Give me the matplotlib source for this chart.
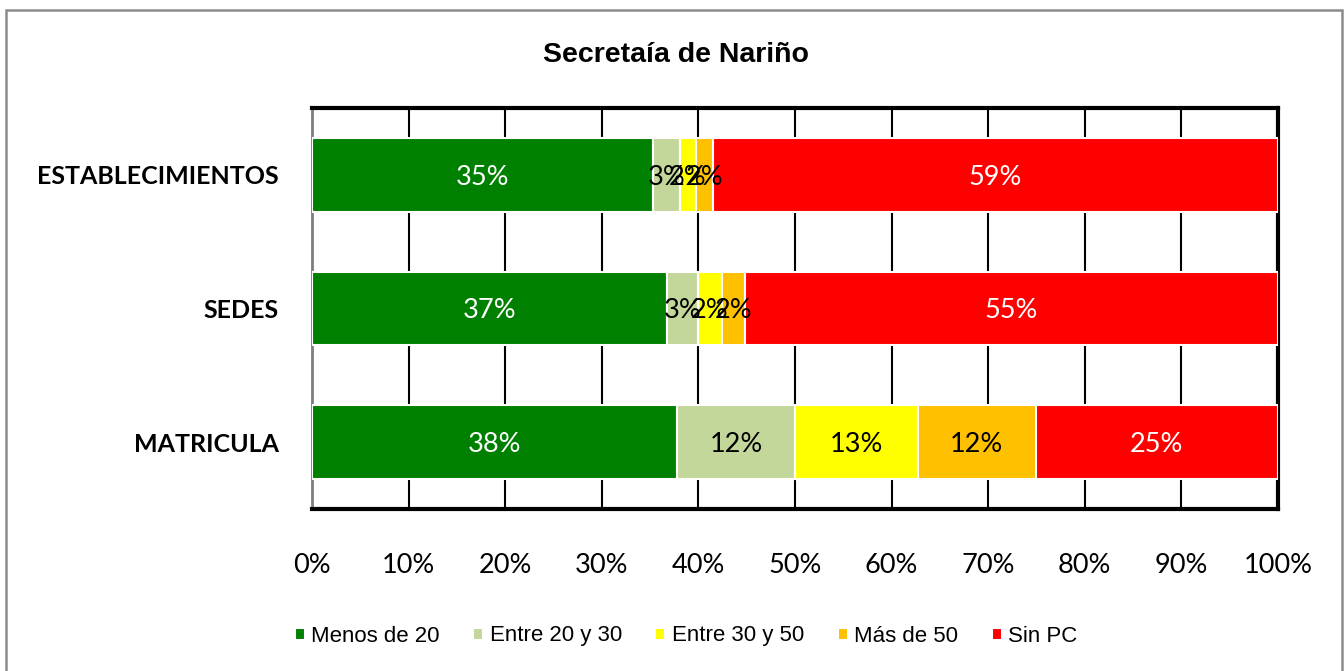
import matplotlib
matplotlib.use("Agg")
import matplotlib.pyplot as plt
from matplotlib.patches import Rectangle
from matplotlib import font_manager

names = {f.name for f in font_manager.fontManager.ttflist}
narrow = "Liberation Sans Narrow" if "Liberation Sans Narrow" in names else "Liberation Sans"

title = "Secretaía de Nariño"
categories = ["ESTABLECIMIENTOS", "SEDES", "MATRICULA"]
series = ["Menos de 20", "Entre 20 y 30", "Entre 30 y 50", "Más de 50", "Sin PC"]
colors = ["#008000", "#C4D79B", "#FFFF00", "#FFC000", "#FF0000"]
text_colors = ["white", "black", "black", "black", "white"]
menos20 = [0.353, 0.368, 0.378]
entre20_30 = [0.028, 0.032, 0.122]
entre30_50 = [0.016, 0.024, 0.127]
mas50 = [0.018, 0.024, 0.122]
sin_pc = [0.585, 0.552, 0.251]
labels = [["35%", "37%", "38%"], ["3%", "3%", "12%"], ["2%", "2%", "13%"],
          ["2%", "2%", "12%"], ["59%", "55%", "25%"]]
ticks = [0, 0.1, 0.2, 0.3, 0.4, 0.5, 0.6, 0.7, 0.8, 0.9, 1.0]
tick_labels = ["0%", "10%", "20%", "30%", "40%", "50%", "60%", "70%", "80%", "90%", "100%"]

values = [menos20, entre20_30, entre30_50, mas50, sin_pc]

fig = plt.figure(figsize=(13.44, 6.71), dpi=100)
W, H = 1344, 671
# outer chart frame
fig.patches.append(Rectangle((6 / W, -0.05), (1342 - 6) / W, 1 - 10 / H + 0.05,
                             transform=fig.transFigure, fill=False,
                             edgecolor="#8c8c8c", linewidth=1.8))

ax = fig.add_axes([312 / W, 1 - 509 / H, (1278 - 312) / W, (509 - 108) / H])
ypos = [2, 1, 0]
left = [0, 0, 0]
for i, (s, vals) in enumerate(zip(series, values)):
    bars = ax.barh(ypos, vals, left=left, height=0.55, color=colors[i],
                   edgecolor="white", linewidth=1.5, label=s, zorder=3)
    for j, b in enumerate(bars):
        ax.text(left[j] + vals[j] / 2, ypos[j], labels[i][j], ha="center",
                va="center_baseline", color=text_colors[i], fontsize=19.5,
                family="Lato", zorder=4)
    left = [l + v for l, v in zip(left, vals)]

ax.set_xlim(0, 1)
ax.set_ylim(-0.5, 2.5)
ax.set_xticks(ticks)
ax.set_xticklabels(tick_labels, family="Lato", fontsize=19.5)
ax.set_yticks(ypos)
ax.set_yticklabels(categories, family="Lato", fontweight="bold", fontsize=18)
ax.tick_params(axis="x", length=0, pad=32)
ax.tick_params(axis="y", length=0, pad=24)
ax.grid(axis="x", color="black", linewidth=1.5, zorder=0)
for side in ["top", "right", "bottom"]:
    ax.spines[side].set_linewidth(3)
    ax.spines[side].set_color("black")
ax.spines["left"].set_linewidth(2)
ax.spines["left"].set_color("#7f7f7f")

fig.text(676 / W, 1 - 55 / H, title, ha="center", va="center", fontsize=20.5,
         fontweight="bold", family="Liberation Sans")

fig.legend(loc="center", bbox_to_anchor=(686 / W, 1 - 636 / H), ncol=5, frameon=False,
           prop={"family": narrow, "size": 16}, handlelength=0.45, handleheight=0.45,
           handletextpad=0.3, columnspacing=1.5)

fig.savefig("out.png", dpi=100)
